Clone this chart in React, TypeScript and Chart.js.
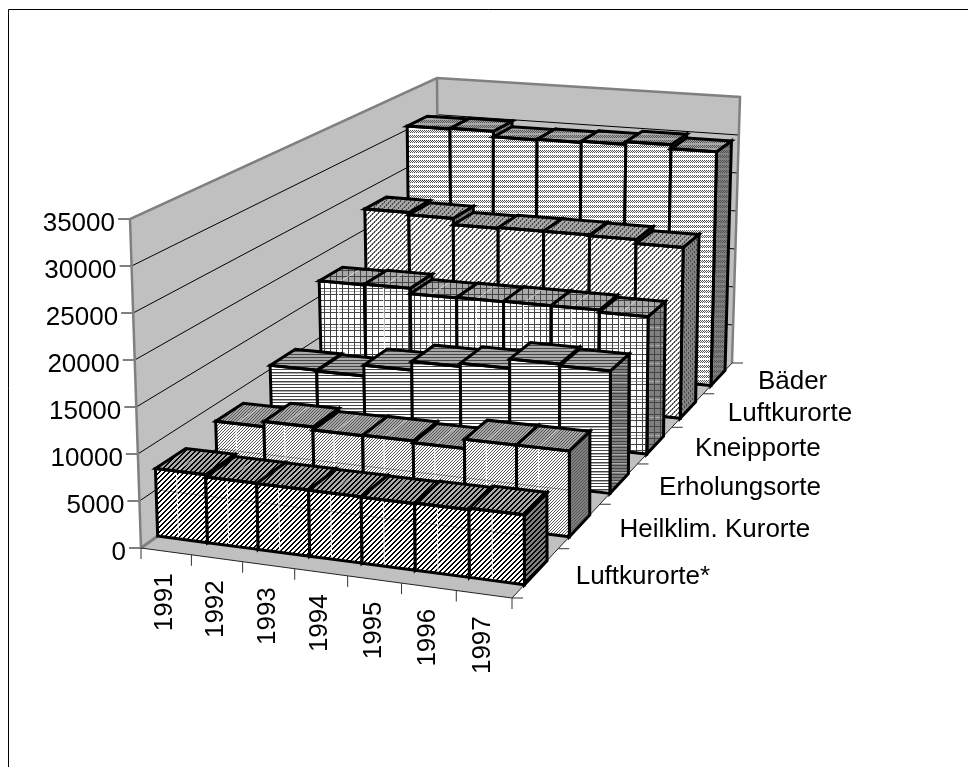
import React, { useEffect, useRef } from "react";
import { Chart, registerables } from "chart.js";

Chart.register(...registerables);

const years = ["1991", "1992", "1993", "1994", "1995", "1996", "1997"];
const seriesNames = ["Luftkurorte*", "Heilklim. Kurorte", "Erholungsorte", "Kneipporte", "Luftkurorte", "Bäder"];
const luftkurorteStar = [7270, 7020, 6980, 6940, 6900, 6960, 7120];
const heilklimKurorte = [8100, 8700, 8350, 8400, 8200, 9200, 9200];
const erholungsorte = [10450, 10350, 11600, 12600, 12950, 14000, 13800];
const kneipporte = [16900, 17000, 16350, 16400, 16450, 16450, 16200];
const luftkurorte = [22600, 22300, 21500, 21600, 21600, 21500, 21000];
const baeder = [30470, 30560, 29830, 29900, 30050, 30400, 29900];
const allSeries = [luftkurorteStar, heilklimKurorte, erholungsorte, kneipporte, luftkurorte, baeder];

type Pt = { x: number; y: number };
const FLOOR: Pt[] = [{ x: 141, y: 548 }, { x: 512, y: 598 }, { x: 732, y: 363 }, { x: 439, y: 335 }];
const ROOF: Pt[] = [{ x: 130, y: 219 }, { x: 510, y: 250 }, { x: 740, y: 97 }, { x: 437, y: 78 }];
const FONT = '26px "Liberation Sans", Arial, sans-serif';
const BAR_EDGE = 3;

function squareToQuad(q: Pt[]) {
  const [p0, p1, p2, p3] = q;
  const dx1 = p1.x - p2.x, dx2 = p3.x - p2.x, sx = p0.x - p1.x + p2.x - p3.x;
  const dy1 = p1.y - p2.y, dy2 = p3.y - p2.y, sy = p0.y - p1.y + p2.y - p3.y;
  const den = dx1 * dy2 - dx2 * dy1;
  const g = (sx * dy2 - dx2 * sy) / den;
  const h = (dx1 * sy - sx * dy1) / den;
  const a = p1.x - p0.x + g * p1.x, b = p3.x - p0.x + h * p3.x, c = p0.x;
  const d = p1.y - p0.y + g * p1.y, e = p3.y - p0.y + h * p3.y, f = p0.y;
  return (u: number, w: number): Pt => {
    const k = g * u + h * w + 1;
    return { x: (a * u + b * w + c) / k, y: (d * u + e * w + f) / k };
  };
}
const floorMap = squareToQuad(FLOOR);
const roofMap = squareToQuad(ROOF);
const project = (u: number, w: number, h: number): Pt => {
  const f = floorMap(u, w), r = roofMap(u, w);
  return { x: f.x + (r.x - f.x) * h, y: f.y + (r.y - f.y) * h };
};

type Ink = (x: number, y: number) => string | null;
const rowStyles: { size: [number, number]; ink: Ink; stripe: boolean; level: boolean }[] = [
  { size: [5, 5], ink: (x, y) => ((x + y) % 5 < 2 ? "#000" : null), stripe: true, level: true },
  { size: [3, 3], ink: (x, y) => ((x + y) % 3 === 0 ? "#555" : null), stripe: true, level: true },
  { size: [6, 9], ink: (_x, y) => (y % 3 === 0 ? "#444" : y % 9 === 4 ? "#aaa" : null), stripe: false, level: false },
  { size: [6, 18], ink: (x, y) => (x % 6 === 0 || y % 6 === 0 ? "#444" : y % 18 === 3 ? "#aaa" : null), stripe: true, level: false },
  { size: [10, 10], ink: (x, y) => ((x + y) % 5 < 2 && x % 2 === 0 ? "#444" : (x + y) % 5 < 2 ? "#888" : null), stripe: false, level: false },
  { size: [2, 5], ink: (x, y) => (y % 5 < 3 && (x + y) % 2 === 0 ? "#555" : null), stripe: false, level: false },
];

function makePattern(ctx: CanvasRenderingContext2D, i: number, bg: string) {
  const s = rowStyles[i];
  const c = document.createElement("canvas");
  c.width = s.size[0];
  c.height = s.size[1];
  const t = c.getContext("2d")!;
  t.fillStyle = bg;
  t.fillRect(0, 0, c.width, c.height);
  for (let y = 0; y < c.height; y++)
    for (let x = 0; x < c.width; x++) {
      const k = s.ink(x, y);
      if (k) {
        t.fillStyle = k;
        t.fillRect(x, y, 1, 1);
      }
    }
  return ctx.createPattern(c, "repeat")!;
}

function poly(ctx: CanvasRenderingContext2D, pts: Pt[], fill: any, stroke?: string, lw = 1) {
  ctx.beginPath();
  pts.forEach((p, i) => (i ? ctx.lineTo(p.x, p.y) : ctx.moveTo(p.x, p.y)));
  ctx.closePath();
  if (fill) {
    ctx.fillStyle = fill;
    ctx.fill();
  }
  if (stroke) {
    ctx.strokeStyle = stroke;
    ctx.lineWidth = lw;
    ctx.stroke();
  }
}
function line(ctx: CanvasRenderingContext2D, pts: Pt[], color: string, lw: number) {
  ctx.beginPath();
  pts.forEach((p, i) => (i ? ctx.lineTo(p.x, p.y) : ctx.moveTo(p.x, p.y)));
  ctx.strokeStyle = color;
  ctx.lineWidth = lw;
  ctx.stroke();
}

const scene3d = {
  id: "scene3d",
  afterDatasetsDraw(chart: any) {
    const ctx: CanvasRenderingContext2D = chart.ctx;
    const yS = chart.scales.y;
    const xS = chart.scales.x;
    const base = yS.getPixelForValue(0);
    const span = base - yS.getPixelForValue(yS.max);
    const hOf = (v: number) => (base - yS.getPixelForValue(v)) / span;
    const band = (xS.right - xS.left) / years.length;
    const uStart = (i: number) => (xS.getPixelForValue(i) - band / 2 - xS.left) / (xS.right - xS.left);
    const nRows = seriesNames.length;

    ctx.save();
    // page frame
    line(ctx, [{ x: 8.5, y: 767 }, { x: 8.5, y: 9.5 }, { x: 968, y: 9.5 }], "#000", 1);

    // walls and floor
    const wallFill = "#c0c0c0";
    poly(ctx, [project(0, 0, 0), project(0, 0, 1), project(0, 1, 1), project(0, 1, 0)], wallFill);
    poly(ctx, [project(0, 1, 0), project(0, 1, 1), project(1, 1, 1), project(1, 1, 0)], wallFill);
    poly(ctx, [project(0, 0, 0), project(1, 0, 0), project(1, 1, 0), project(0, 1, 0)], wallFill);

    // grid lines and value ticks
    ctx.font = FONT;
    ctx.textBaseline = "middle";
    for (const t of yS.ticks) {
      const h = hOf(t.value);
      const a = project(0, 0, h);
      if (t.value > 0 && t.value < yS.max) {
        line(ctx, [a, project(0, 1, h), project(1, 1, h)], "#000", 1);
      }
      line(ctx, [{ x: a.x - 12, y: a.y }, a], "#000", 1);
      ctx.fillStyle = "#000";
      ctx.textAlign = "right";
      ctx.fillText(String(t.value), a.x - 15, a.y + 5);
    }

    // wall edges
    const edge = "#808080";
    line(ctx, [project(0, 0, 0), project(0, 0, 1), project(0, 1, 1), project(1, 1, 1), project(1, 1, 0)], edge, 2.5);
    line(ctx, [project(0, 1, 1), project(0, 1, 0)], edge, 2.5);
    line(ctx, [project(0, 0, 0), project(0, 1, 0)], edge, 3);
    line(ctx, [project(0, 0, 0), project(1, 0, 0), project(1, 1, 0)], "#222", 1);

    // axis ticks and labels on the floor edges
    for (let i = 0; i <= years.length; i++) {
      const p = project(i / years.length, 0, 0);
      line(ctx, [p, { x: p.x, y: p.y + 11 }], "#333", 1);
    }
    years.forEach((yr, i) => {
      const p = project((i + 0.5) / years.length, 0, 0);
      ctx.save();
      ctx.translate(p.x - 1, p.y + 22);
      ctx.rotate(-Math.PI / 2);
      ctx.textAlign = "right";
      ctx.fillStyle = "#000";
      ctx.fillText(yr, 0, 0);
      ctx.restore();
    });
    for (let j = 0; j <= nRows; j++) {
      const p = project(1, j / nRows, 0);
      line(ctx, [p, { x: p.x + 11, y: p.y }], "#333", 1);
    }
    seriesNames.forEach((name, j) => {
      const p = project(1, (j + 0.5) / nRows, 0);
      ctx.textAlign = "left";
      ctx.fillStyle = "#000";
      ctx.fillText(name, p.x + 40, p.y + 4);
    });

    // bars, back row first
    ctx.lineJoin = "miter";
    for (let j = nRows - 1; j >= 0; j--) {
      const st = rowStyles[j];
      const front = makePattern(ctx, j, "#ffffff");
      const top = makePattern(ctx, j, "#a8a8a8");
      const side = makePattern(ctx, j, "#808080");
      const w0 = (j + 0.26) / nRows, w1 = (j + 0.75) / nRows;
      chart.data.datasets[j].data.forEach((v: number, i: number) => {
        const u0 = uStart(i), u1 = u0 + 1 / years.length;
        const h = hOf(v);
        const sideFace = [project(u1, w0, 0), project(u1, w1, 0), project(u1, w1, h), project(u1, w0, h)];
        const topFace = [project(u0, w0, h), project(u1, w0, h), project(u1, w1, h), project(u0, w1, h)];
        const frontFace = [project(u0, w0, 0), project(u1, w0, 0), project(u1, w0, h), project(u0, w0, h)];
        poly(ctx, sideFace, side, "#000", BAR_EDGE);
        poly(ctx, topFace, top);
        poly(ctx, frontFace, front);
        const um = u0 + (u1 - u0) * 0.42;
        if (st.stripe) {
          line(ctx, [project(um, w0, 0), project(um, w0, h)], "#fff", 1);
          line(ctx, [project(um, w0, h), project(um, w1, h)], "rgba(255,255,255,0.55)", 1);
        }
        if (st.level) {
          const l = hOf(yS.ticks[1].value);
          line(ctx, [project(u0, w0, l), project(u1, w0, l)], "rgba(0,0,0,0.35)", 1);
        }
        poly(ctx, topFace, null, "#000", BAR_EDGE);
        poly(ctx, frontFace, null, "#000", BAR_EDGE);
      });
    }
    ctx.restore();
  },
};

export default function App() {
  const ref = useRef<HTMLCanvasElement>(null);
  useEffect(() => {
    const chart = new Chart(ref.current!, {
      type: "bar",
      data: {
        labels: years,
        datasets: seriesNames.map((label, j) => ({
          label,
          data: allSeries[j],
          backgroundColor: "transparent",
          borderWidth: 0,
        })),
      },
      options: {
        animation: false,
        responsive: false,
        events: [],
        layout: { padding: { top: 219, bottom: 767 - 548, left: 141, right: 968 - 512 } },
        plugins: { legend: { display: false }, title: { display: false }, tooltip: { enabled: false } },
        scales: {
          x: { display: false },
          y: { display: false, min: 0, max: 35000, ticks: { stepSize: 5000 } },
        },
      },
      plugins: [scene3d],
    } as any);
    return () => chart.destroy();
  }, []);
  return (
    <div style={{ position: "absolute", left: 0, top: 0, width: 968, height: 767, background: "#fff" }}>
      <canvas ref={ref} width={968} height={767} style={{ display: "block" }} />
    </div>
  );
}
